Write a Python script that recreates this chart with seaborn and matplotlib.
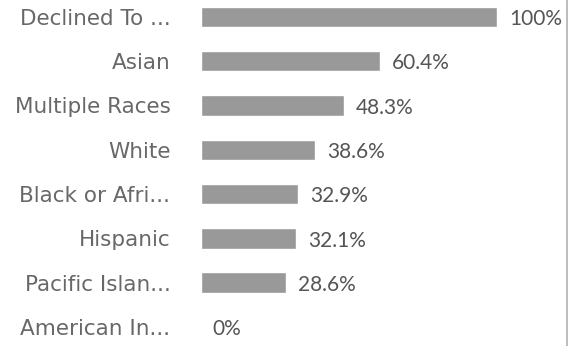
import matplotlib
matplotlib.use("Agg")
import matplotlib.pyplot as plt
import seaborn as sns
import pandas as pd

categories = ["Declined To ...", "Asian", "Multiple Races", "White",
              "Black or Afri...", "Hispanic", "Pacific Islan...", "American In..."]
percent = [100, 60.4, 48.3, 38.6, 32.9, 32.1, 28.6, 0]
value_labels = ["100%", "60.4%", "48.3%", "38.6%", "32.9%", "32.1%", "28.6%", "0%"]

df = pd.DataFrame({"group": categories, "pct": percent})

sns.set_theme(style="white")
fig = plt.figure(figsize=(5.7, 3.46), dpi=100)
ax = fig.add_axes([201 / 570, 0, (567 - 201) / 570, 1])

sns.barplot(data=df, x="pct", y="group", orient="h", color="#999999",
            saturation=1, width=0.46, ax=ax)

ax.set_xlim(0, 123.6)
ax.set_ylim(7.43, -0.38)
ax.set_xlabel("")
ax.set_ylabel("")
ax.set_xticks([])

ax.set_yticks(range(len(categories)))
ax.set_yticklabels(categories, fontfamily="DejaVu Sans", fontsize=15.5, color="#686868")
ax.tick_params(axis="y", length=0, pad=22)

for i, (v, lab) in enumerate(zip(percent, value_labels)):
    ax.text(v + 4.0, i + 0.05, lab, ha="left", va="center",
            fontfamily="Lato", fontsize=15, color="#555555")

for side in ["top", "left", "bottom"]:
    ax.spines[side].set_visible(False)
ax.spines["right"].set_color("#b0b0b0")
ax.spines["right"].set_linewidth(1.2)

fig.savefig("out.png", dpi=100)
